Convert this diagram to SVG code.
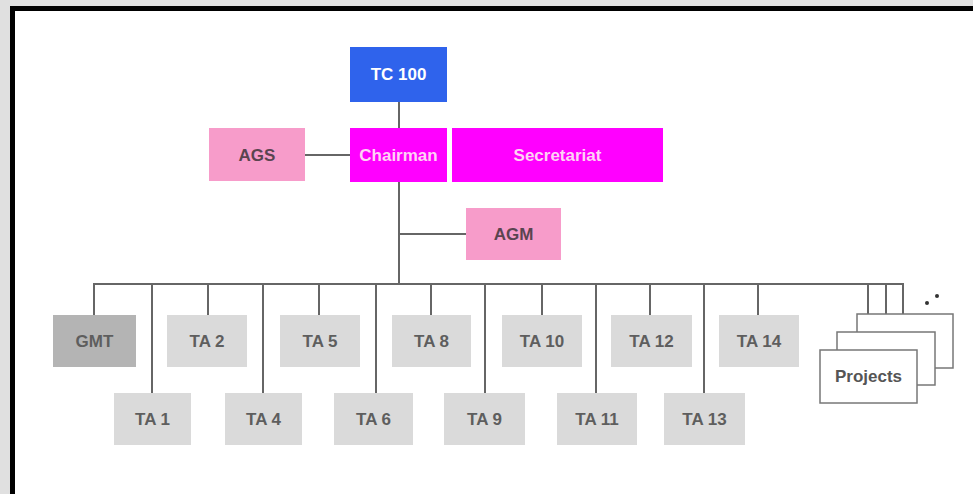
<svg xmlns="http://www.w3.org/2000/svg" width="973" height="494" viewBox="0 0 973 494">
<style>
text{font-family:"Liberation Sans",Arial,sans-serif;font-size:17px;font-weight:bold;text-anchor:middle;dominant-baseline:central}
.ta rect{fill:#dadada}
.ta text{fill:#5e5e5e}
.pink rect{fill:#f79cca}
.pink text{fill:#5a4450}
.mag rect{fill:#ff00ff}
.mag text{fill:#ffd2f5}
.proj{fill:#fff;stroke:#777;stroke-width:1.5}
#connectors line,#connectors polyline{stroke:#666;stroke-width:2;fill:none}
</style>
<rect x="0" y="0" width="973" height="494" fill="#e0e0e0"/>
<rect x="10" y="6" width="963" height="488" fill="#000"/>
<rect x="15" y="11" width="958" height="483" fill="#fff"/>
<g id="connectors">
<line x1="399" y1="102" x2="399" y2="128"/>
<line x1="305" y1="155" x2="350" y2="155"/>
<line x1="399" y1="182" x2="399" y2="284"/>
<line x1="399" y1="234" x2="466" y2="234"/>
<line x1="94" y1="284" x2="904" y2="284"/>
<line x1="94" y1="283" x2="94" y2="315"/>
<line x1="152" y1="283" x2="152" y2="393"/>
<line x1="208" y1="283" x2="208" y2="315"/>
<line x1="263" y1="283" x2="263" y2="393"/>
<line x1="319" y1="283" x2="319" y2="315"/>
<line x1="376" y1="283" x2="376" y2="393"/>
<line x1="431" y1="283" x2="431" y2="315"/>
<line x1="485" y1="283" x2="485" y2="393"/>
<line x1="542" y1="283" x2="542" y2="315"/>
<line x1="596" y1="283" x2="596" y2="393"/>
<line x1="650" y1="283" x2="650" y2="315"/>
<line x1="704" y1="283" x2="704" y2="393"/>
<line x1="758" y1="283" x2="758" y2="315"/>
<line x1="868" y1="283" x2="868" y2="350"/>
<line x1="886" y1="283" x2="886" y2="332"/>
<line x1="903" y1="283" x2="903" y2="314"/>
</g>
<g id="tc100"><rect x="350" y="47" width="97" height="55" fill="#2f63ec"/><text x="398.5" y="74.5" fill="#fff">TC 100</text></g>
<g id="chairman" class="mag"><rect x="350" y="128" width="97" height="54"/><text x="398.5" y="155">Chairman</text></g>
<g id="secretariat" class="mag"><rect x="452" y="128" width="211" height="54"/><text x="557.5" y="155">Secretariat</text></g>
<g id="ags" class="pink"><rect x="209" y="128" width="96" height="53"/><text x="257" y="155">AGS</text></g>
<g id="agm" class="pink"><rect x="466" y="208" width="95" height="52"/><text x="513.5" y="234">AGM</text></g>
<g id="gmt" class="ta"><rect x="53" y="315" width="83" height="52" style="fill:#b4b4b4"/><text x="94.5" y="341">GMT</text></g>
<g id="ta2" class="ta"><rect x="167" y="315" width="80" height="52"/><text x="207" y="341">TA 2</text></g>
<g id="ta5" class="ta"><rect x="280" y="315" width="80" height="52"/><text x="320" y="341">TA 5</text></g>
<g id="ta8" class="ta"><rect x="392" y="315" width="79" height="52"/><text x="431.5" y="341">TA 8</text></g>
<g id="ta10" class="ta"><rect x="502" y="315" width="80" height="52"/><text x="542" y="341">TA 10</text></g>
<g id="ta12" class="ta"><rect x="611" y="315" width="81" height="52"/><text x="651.5" y="341">TA 12</text></g>
<g id="ta14" class="ta"><rect x="719" y="315" width="80" height="52"/><text x="759" y="341">TA 14</text></g>
<g id="ta1" class="ta"><rect x="114" y="393" width="77" height="52"/><text x="152.5" y="419">TA 1</text></g>
<g id="ta4" class="ta"><rect x="225" y="393" width="77" height="52"/><text x="263.5" y="419">TA 4</text></g>
<g id="ta6" class="ta"><rect x="334" y="393" width="79" height="52"/><text x="373.5" y="419">TA 6</text></g>
<g id="ta9" class="ta"><rect x="444" y="393" width="81" height="52"/><text x="484.5" y="419">TA 9</text></g>
<g id="ta11" class="ta"><rect x="557" y="393" width="80" height="52"/><text x="597" y="419">TA 11</text></g>
<g id="ta13" class="ta"><rect x="664" y="393" width="81" height="52"/><text x="704.5" y="419">TA 13</text></g>
<g id="projects">
<rect class="proj" x="857" y="314" width="96" height="54"/>
<rect class="proj" x="837" y="332" width="98" height="53"/>
<rect class="proj" x="820" y="350" width="97" height="53"/>
<text x="868.5" y="376.5" fill="#555">Projects</text>
<circle cx="927" cy="303" r="2" fill="#333"/>
<circle cx="937" cy="296" r="2" fill="#333"/>
</g>
</svg>
